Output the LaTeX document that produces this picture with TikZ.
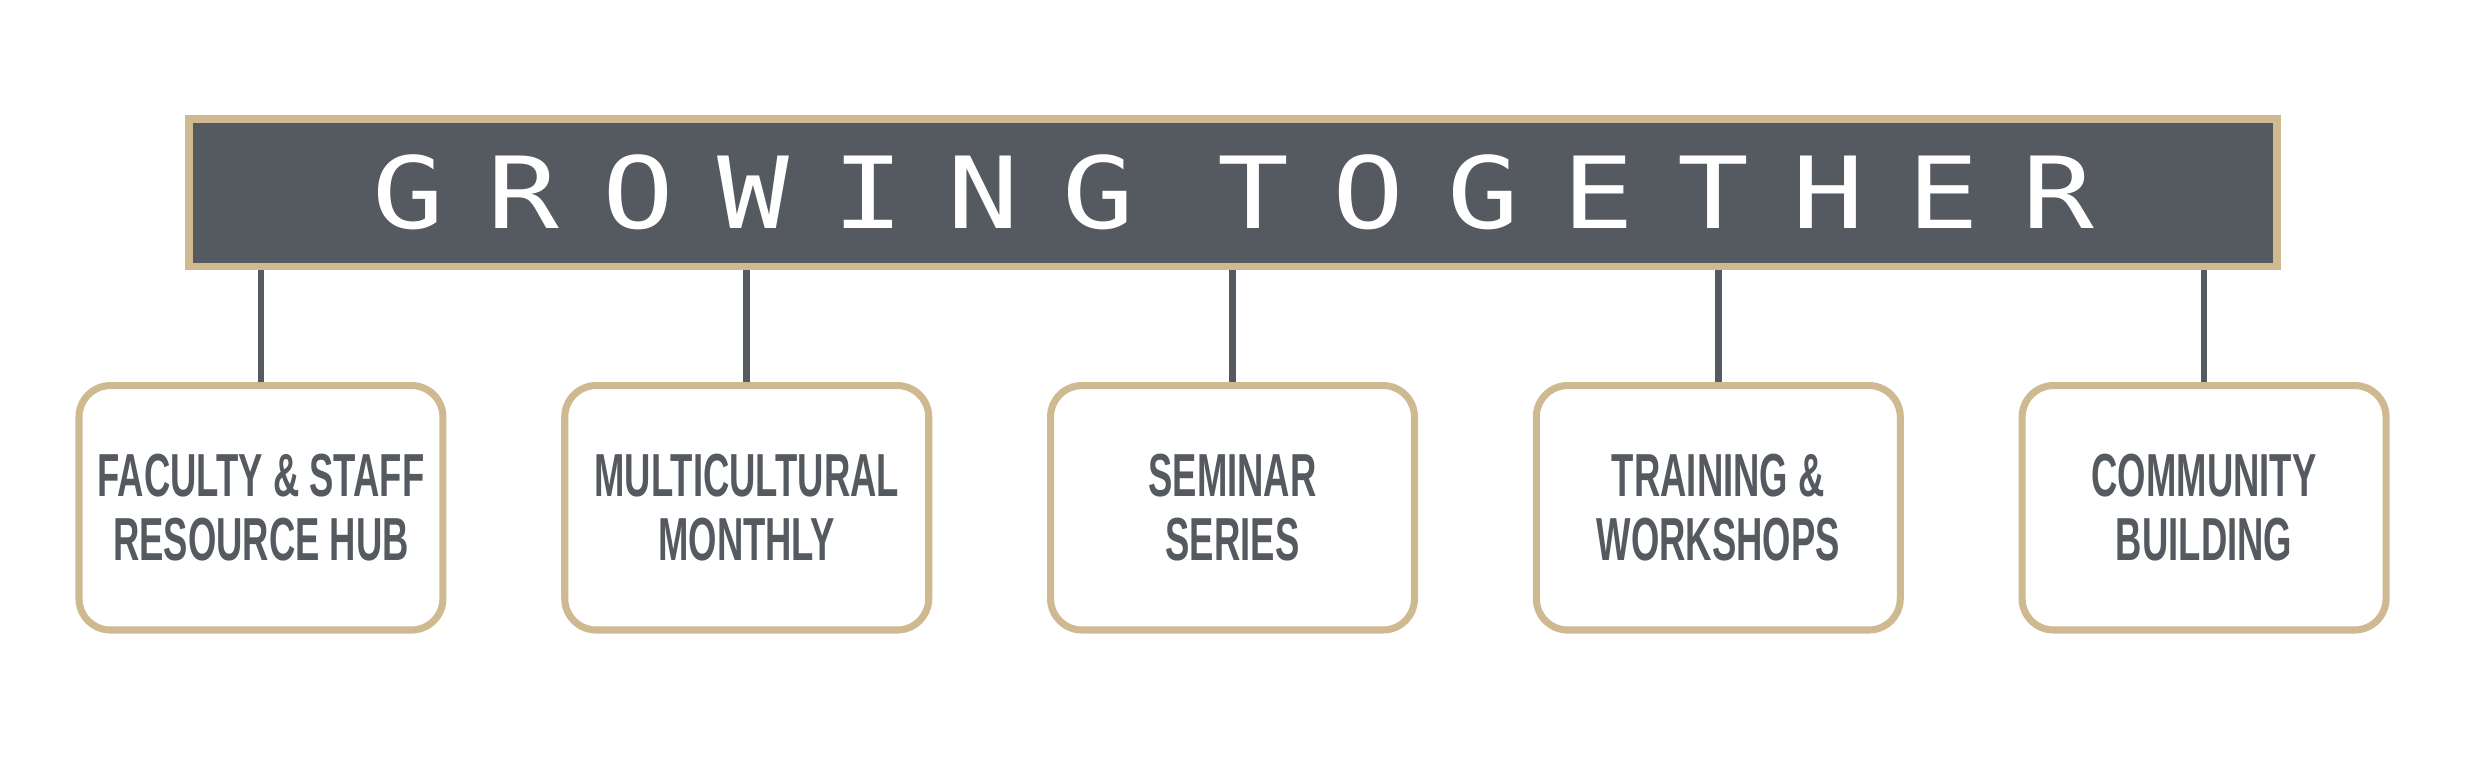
\documentclass[tikz,border=0pt]{standalone}
\usepackage{fontspec}
\usepackage{tikz}
\usetikzlibrary{positioning}
\definecolor{gold}{HTML}{CFB991}
\definecolor{steel}{HTML}{555960}
\newfontfamily\bannerfont{DejaVu Sans Mono}[FakeStretch=1.2,LetterSpace=43.4,WordSpace=0.72]
\newfontfamily\itemfont{Liberation Sans}[FakeStretch=0.6]

\begin{document}
\begin{tikzpicture}[x=0.2mm,y=-0.2mm,
		banner/.style={draw=gold,line width=1mm,fill=steel,text=white,minimum width=265.6mm,minimum height=18.8mm,
			font=\bannerfont\fontsize{36}{36}\selectfont},
		item/.style={draw=gold,line width=0.9mm,fill=white,rounded corners=4mm,minimum width=46.3mm,minimum height=31.1mm,
			align=center,text=steel,font=\itemfont\bfseries\fontsize{22}{23}\selectfont},
		link/.style={draw=steel,line width=0.85mm}]
		\useasboundingbox (0,0) rectangle (1568,483);
		\node (top) [banner] at (784.5,122.5) {GROWING TOGETHER};
		\node (hub)       [item] at (166,323)             {FACULTY \& STAFF\\RESOURCE HUB};
		\node (monthly)   [item, right=14.6mm of hub]     {MULTICULTURAL\\MONTHLY};
		\node (seminar)   [item, right=14.6mm of monthly] {SEMINAR\\SERIES};
		\node (training)  [item, right=14.6mm of seminar] {TRAINING \&\\WORKSHOPS};
		\node (community) [item, right=14.6mm of training] {COMMUNITY\\BUILDING};
		\draw [link] (top.south -| hub.north)       -- (hub.north);
		\draw [link] (top.south -| monthly.north)   -- (monthly.north);
		\draw [link] (top.south -| seminar.north)   -- (seminar.north);
		\draw [link] (top.south -| training.north)  -- (training.north);
		\draw [link] (top.south -| community.north) -- (community.north);
\end{tikzpicture}
\end{document}
